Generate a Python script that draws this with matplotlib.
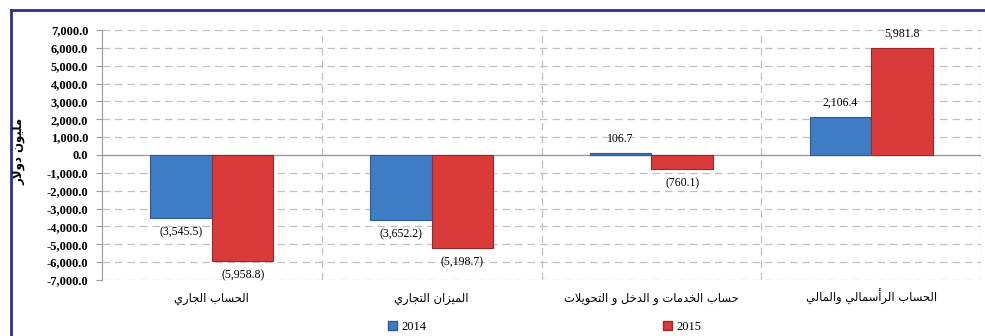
import matplotlib
matplotlib.use("Agg")
import matplotlib.pyplot as plt
import numpy as np
from matplotlib.lines import Line2D
from matplotlib.patches import Patch

# ميزان المدفوعات (مليون دولار)
CATEGORIES = [
    "الحساب الجاري",
    "الميزان التجاري",
    "حساب الخدمات و الدخل و التحويلات",
    "الحساب الرأسمالي والمالي",
]
YEARS = ["2014", "2015"]
VALUES_2014 = [-3545.5, -3652.2, 106.7, 2106.4]
VALUES_2015 = [-5958.8, -5198.7, -760.1, 5981.8]
Y_LABEL = "مليون دولار"

BLUE = "#3f7cc6"
RED = "#d93b3b"

# matplotlib has no Arabic shaping, so map letters to presentation forms
# (isolated, final, initial, medial) and reverse for right-to-left display
FORMS = {
    "ا": ("\ufe8d", "\ufe8e", None, None),
    "أ": ("\ufe83", "\ufe84", None, None),
    "ب": ("\ufe8f", "\ufe90", "\ufe91", "\ufe92"),
    "ت": ("\ufe95", "\ufe96", "\ufe97", "\ufe98"),
    "ج": ("\ufe9d", "\ufe9e", "\ufe9f", "\ufea0"),
    "ح": ("\ufea1", "\ufea2", "\ufea3", "\ufea4"),
    "خ": ("\ufea5", "\ufea6", "\ufea7", "\ufea8"),
    "د": ("\ufea9", "\ufeaa", None, None),
    "ر": ("\ufead", "\ufeae", None, None),
    "ز": ("\ufeaf", "\ufeb0", None, None),
    "س": ("\ufeb1", "\ufeb2", "\ufeb3", "\ufeb4"),
    "ل": ("\ufedd", "\ufede", "\ufedf", "\ufee0"),
    "م": ("\ufee1", "\ufee2", "\ufee3", "\ufee4"),
    "ن": ("\ufee5", "\ufee6", "\ufee7", "\ufee8"),
    "و": ("\ufeed", "\ufeee", None, None),
    "ي": ("\ufef1", "\ufef2", "\ufef3", "\ufef4"),
}
LAM_ALEF = {"ا": ("\ufefb", "\ufefc"), "أ": ("\ufef7", "\ufef8")}


def shape(text):
    tokens = []
    i = 0
    while i < len(text):
        if text[i] == "ل" and i + 1 < len(text) and text[i + 1] in LAM_ALEF:
            tokens.append(("LA", text[i + 1]))
            i += 2
        else:
            tokens.append(text[i])
            i += 1

    def is_letter(t):
        return isinstance(t, tuple) or t in FORMS

    def joins_forward(t):
        return (not isinstance(t, tuple)) and t in FORMS and FORMS[t][2] is not None

    out = []
    for k, t in enumerate(tokens):
        prev = tokens[k - 1] if k > 0 else None
        nxt = tokens[k + 1] if k + 1 < len(tokens) else None
        jp = prev is not None and joins_forward(prev) and is_letter(t)
        if isinstance(t, tuple):
            iso, fin = LAM_ALEF[t[1]]
            out.append(fin if jp else iso)
            continue
        if t not in FORMS:
            out.append(t)
            continue
        jn = joins_forward(t) and nxt is not None and is_letter(nxt)
        iso, fin, ini, med = FORMS[t]
        if jp and jn:
            out.append(med)
        elif jp:
            out.append(fin)
        elif jn:
            out.append(ini)
        else:
            out.append(iso)
    return "".join(reversed(out))


def fmt(v):
    s = f"{abs(v):,.1f}"
    return f"({s})" if v < 0 else s


fig = plt.figure(figsize=(9.85, 3.36), dpi=100)
ax = fig.add_axes([0.1036, 0.1667, 0.8924, 0.744])

x = np.arange(len(CATEGORIES))
width = 0.28
b1 = ax.bar(x - width, VALUES_2014, width, align="edge", color=BLUE,
            edgecolor="#2a5a98", linewidth=0.8, zorder=3, label=YEARS[0])
b2 = ax.bar(x, VALUES_2015, width, align="edge", color=RED,
            edgecolor="#9e2626", linewidth=0.8, zorder=3, label=YEARS[1])

for bars in (b1, b2):
    for rect in bars:
        v = rect.get_height()
        cx = rect.get_x() + rect.get_width() / 2
        off = 6 if v >= 0 else -6
        ax.annotate(fmt(v), (cx, v), xytext=(0, off), textcoords="offset points",
                    ha="center", va="bottom" if v >= 0 else "top",
                    fontsize=8.5, family="Liberation Serif", zorder=4)

ax.set_ylim(-7000, 7000)
ax.set_xlim(-0.5, len(CATEGORIES) - 0.5)
ax.set_yticks(np.arange(-7000, 7001, 1000))
ax.set_yticklabels([f"{t:,.1f}" for t in np.arange(-7000, 7001, 1000)],
                   fontsize=9, fontweight="bold", family="Liberation Serif")
ax.set_xticks(x)
ax.set_xticklabels([shape(c) for c in CATEGORIES], fontsize=8.3,
                   family="DejaVu Sans", va="baseline")
ax.tick_params(axis="x", length=0, pad=16)
ax.tick_params(axis="y", length=4, color="#999999", pad=6)

# dashed grid, solid zero line
for t in np.arange(-7000, 7001, 1000):
    if t != 0:
        ax.axhline(t, color="#c0c0c0", linestyle=(0, (6, 4)), linewidth=0.9, zorder=1)
ax.axhline(0, color="#999999", linewidth=1.0, zorder=2)
for b in np.arange(0.5, len(CATEGORIES), 1.0):
    ax.axvline(b, color="#c0c0c0", linestyle=(0, (6, 4)), linewidth=0.9, zorder=1)

for s in ("top", "right", "bottom"):
    ax.spines[s].set_visible(False)
ax.spines["left"].set_color("#999999")

fig.text(0.019, 0.55, shape(Y_LABEL), rotation=90, ha="center", va="center",
         fontsize=8.5, fontweight="bold", family="DejaVu Sans")

handles = [Patch(facecolor=BLUE, edgecolor="#2a5a98"), Patch(facecolor=RED, edgecolor="#9e2626")]
fig.legend(handles, YEARS, loc="lower center", bbox_to_anchor=(0.553, -0.025), ncol=2,
           frameon=False, handlelength=0.7, handleheight=0.7, handletextpad=0.3,
           columnspacing=19, prop={"family": "Liberation Serif", "size": 9})

# dark blue frame along the top and left
frame_col = "#2b2f8f"
fig.add_artist(Line2D([11 / 985, 11 / 985], [0, 1 - 10 / 336], color=frame_col, linewidth=2))
fig.add_artist(Line2D([11 / 985, 1], [1 - 10 / 336, 1 - 10 / 336], color=frame_col, linewidth=2))

fig.savefig("out.png", dpi=100)
